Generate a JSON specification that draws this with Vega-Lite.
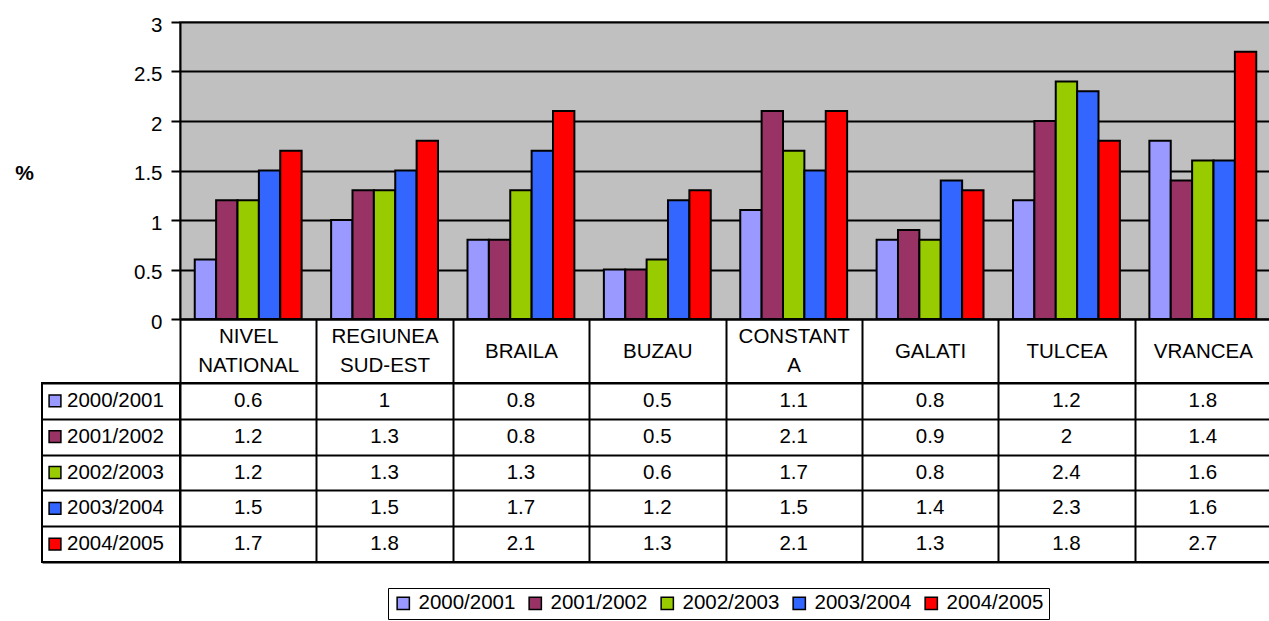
{
  "$schema": "https://vega.github.io/schema/vega-lite/v6.json",
  "padding": {"left": 13, "top": 14, "right": 0, "bottom": 0},
  "config": {
    "font": "Liberation Sans",
    "axis": {"labelColor": "black", "titleColor": "black"}
  },
  "datasets": {
    "bars": [
      {"region": "NIVEL NATIONAL", "series": "2000/2001", "value": 0.6},
      {"region": "REGIUNEA SUD-EST", "series": "2000/2001", "value": 1},
      {"region": "BRAILA", "series": "2000/2001", "value": 0.8},
      {"region": "BUZAU", "series": "2000/2001", "value": 0.5},
      {"region": "CONSTANTA", "series": "2000/2001", "value": 1.1},
      {"region": "GALATI", "series": "2000/2001", "value": 0.8},
      {"region": "TULCEA", "series": "2000/2001", "value": 1.2},
      {"region": "VRANCEA", "series": "2000/2001", "value": 1.8},
      {"region": "NIVEL NATIONAL", "series": "2001/2002", "value": 1.2},
      {"region": "REGIUNEA SUD-EST", "series": "2001/2002", "value": 1.3},
      {"region": "BRAILA", "series": "2001/2002", "value": 0.8},
      {"region": "BUZAU", "series": "2001/2002", "value": 0.5},
      {"region": "CONSTANTA", "series": "2001/2002", "value": 2.1},
      {"region": "GALATI", "series": "2001/2002", "value": 0.9},
      {"region": "TULCEA", "series": "2001/2002", "value": 2},
      {"region": "VRANCEA", "series": "2001/2002", "value": 1.4},
      {"region": "NIVEL NATIONAL", "series": "2002/2003", "value": 1.2},
      {"region": "REGIUNEA SUD-EST", "series": "2002/2003", "value": 1.3},
      {"region": "BRAILA", "series": "2002/2003", "value": 1.3},
      {"region": "BUZAU", "series": "2002/2003", "value": 0.6},
      {"region": "CONSTANTA", "series": "2002/2003", "value": 1.7},
      {"region": "GALATI", "series": "2002/2003", "value": 0.8},
      {"region": "TULCEA", "series": "2002/2003", "value": 2.4},
      {"region": "VRANCEA", "series": "2002/2003", "value": 1.6},
      {"region": "NIVEL NATIONAL", "series": "2003/2004", "value": 1.5},
      {"region": "REGIUNEA SUD-EST", "series": "2003/2004", "value": 1.5},
      {"region": "BRAILA", "series": "2003/2004", "value": 1.7},
      {"region": "BUZAU", "series": "2003/2004", "value": 1.2},
      {"region": "CONSTANTA", "series": "2003/2004", "value": 1.5},
      {"region": "GALATI", "series": "2003/2004", "value": 1.4},
      {"region": "TULCEA", "series": "2003/2004", "value": 2.3},
      {"region": "VRANCEA", "series": "2003/2004", "value": 1.6},
      {"region": "NIVEL NATIONAL", "series": "2004/2005", "value": 1.7},
      {"region": "REGIUNEA SUD-EST", "series": "2004/2005", "value": 1.8},
      {"region": "BRAILA", "series": "2004/2005", "value": 2.1},
      {"region": "BUZAU", "series": "2004/2005", "value": 1.3},
      {"region": "CONSTANTA", "series": "2004/2005", "value": 2.1},
      {"region": "GALATI", "series": "2004/2005", "value": 1.3},
      {"region": "TULCEA", "series": "2004/2005", "value": 1.8},
      {"region": "VRANCEA", "series": "2004/2005", "value": 2.7}
    ],
    "series": [
      {"series": "2000/2001"},
      {"series": "2001/2002"},
      {"series": "2002/2003"},
      {"series": "2003/2004"},
      {"series": "2004/2005"}
    ]
  },
  "columns": 2,
  "spacing": {"row": 64, "column": 0},
  "bounds": "flush",
  "concat": [
    {
      "width": 138,
      "height": 297,
      "view": {"stroke": null},
      "data": {"values": []},
      "mark": "point"
    },
    {
      "width": 1091,
      "height": 297,
      "view": {"fill": "#C0C0C0", "stroke": "#808080", "strokeWidth": 2},
      "data": {"name": "bars"},
      "mark": {"type": "bar", "stroke": "black", "strokeWidth": 2},
      "encoding": {
        "x": {
          "field": "region",
          "type": "nominal",
          "sort": ["NIVEL NATIONAL", "REGIUNEA SUD-EST", "BRAILA", "BUZAU", "CONSTANTA", "GALATI", "TULCEA", "VRANCEA"],
          "scale": {"paddingInner": 0, "paddingOuter": 0},
          "axis": {
            "title": null,
            "domainColor": "black",
            "domainWidth": 2,
            "tickBand": "extent",
            "tickSize": 64,
            "tickWidth": 2,
            "tickColor": "black",
            "labelAngle": 0,
            "labelFontSize": 20.5,
            "labelBaseline": {
              "condition": {"test": "datum.value && (indexof(datum.value, ' ') > 0 || datum.value == 'CONSTANTA')", "value": "line-bottom"},
              "value": "middle"
            },
            "labelLineHeight": 29,
            "labelPadding": -32,
            "labelOverlap": false,
            "labelFlush": false,
            "labelBound": false,
            "labelLimit": 0,
            "labelExpr": "!datum.value ? '' : datum.value == 'CONSTANTA' ? ['CONSTANT', 'A'] : split(datum.value, ' ')"
          }
        },
        "xOffset": {
          "field": "series",
          "type": "nominal",
          "scale": {"paddingInner": 0, "paddingOuter": 0.69}
        },
        "y": {
          "field": "value",
          "type": "quantitative",
          "scale": {"domain": [0, 3], "nice": false},
          "axis": {
            "values": [0, 0.5, 1, 1.5, 2, 2.5, 3],
            "format": "~g",
            "grid": true,
            "gridColor": "black",
            "gridWidth": 2,
            "gridOpacity": 1,
            "domainColor": "black",
            "domainWidth": 2,
            "tickColor": "black",
            "tickWidth": 2,
            "tickSize": 9,
            "labelFontSize": 20.5,
            "labelPadding": 9,
            "labelOffset": 3,
            "title": "%",
            "titleAngle": 0,
            "titleFontSize": 21,
            "titleFontWeight": "bold",
            "titleAlign": "center",
            "titleBaseline": "middle",
            "titleX": -156,
            "titleY": 151
          }
        },
        "color": {
          "field": "series",
          "type": "nominal",
          "scale": {
            "domain": ["2000/2001", "2001/2002", "2002/2003", "2003/2004", "2004/2005"],
            "range": ["#9999FF", "#993366", "#99CC00", "#3366FF", "#FF0000"]
          },
          "legend": {
            "title": null,
            "orient": "none",
            "legendX": 346,
            "legendY": 566,
            "direction": "horizontal",
            "symbolType": "square",
            "symbolSize": 150,
            "symbolStrokeColor": "black",
            "symbolStrokeWidth": 1.5,
            "symbolOpacity": 1,
            "labelFontSize": 20.5,
            "labelColor": "black",
            "labelOffset": 5,
            "columnPadding": 9,
            "padding": 5,
            "strokeColor": "black",
            "fillColor": "white"
          }
        }
      }
    },
    {
      "width": 138,
      "height": 179,
      "view": {"stroke": "black", "strokeWidth": 2},
      "data": {"name": "series"},
      "encoding": {
        "y": {
          "field": "series",
          "type": "nominal",
          "scale": {"type": "band", "paddingInner": 0, "paddingOuter": 0},
          "axis": {
            "title": null,
            "labels": false,
            "ticks": false,
            "domain": false,
            "grid": true,
            "tickBand": "extent",
            "gridColor": "black",
            "gridWidth": 2,
            "gridOpacity": 1
          }
        }
      },
      "layer": [
        {
          "mark": {"type": "point", "shape": "square", "filled": true, "size": 140, "stroke": "black", "strokeWidth": 1.5, "opacity": 1, "xOffset": -56},
          "encoding": {
            "color": {"field": "series", "type": "nominal", "legend": null}
          }
        },
        {
          "mark": {"type": "text", "align": "left", "baseline": "middle", "fontSize": 20.5, "color": "black", "xOffset": -44},
          "encoding": {"text": {"field": "series"}}
        }
      ]
    },
    {
      "width": 1091,
      "height": 179,
      "view": {"stroke": "black", "strokeWidth": 2},
      "data": {"name": "bars"},
      "mark": {"type": "text", "fontSize": 20.5, "color": "black", "baseline": "middle"},
      "encoding": {
        "x": {
          "field": "region",
          "type": "nominal",
          "sort": ["NIVEL NATIONAL", "REGIUNEA SUD-EST", "BRAILA", "BUZAU", "CONSTANTA", "GALATI", "TULCEA", "VRANCEA"],
          "scale": {"type": "band", "paddingInner": 0, "paddingOuter": 0},
          "axis": {
            "title": null,
            "labels": false,
            "ticks": false,
            "domain": false,
            "grid": true,
            "tickBand": "extent",
            "gridColor": "black",
            "gridWidth": 2,
            "gridOpacity": 1
          }
        },
        "y": {
          "field": "series",
          "type": "nominal",
          "scale": {"type": "band", "paddingInner": 0, "paddingOuter": 0},
          "axis": {
            "title": null,
            "labels": false,
            "ticks": false,
            "domain": false,
            "grid": true,
            "tickBand": "extent",
            "gridColor": "black",
            "gridWidth": 2,
            "gridOpacity": 1
          }
        },
        "text": {"field": "value", "type": "quantitative", "format": "~g"}
      }
    }
  ]
}
